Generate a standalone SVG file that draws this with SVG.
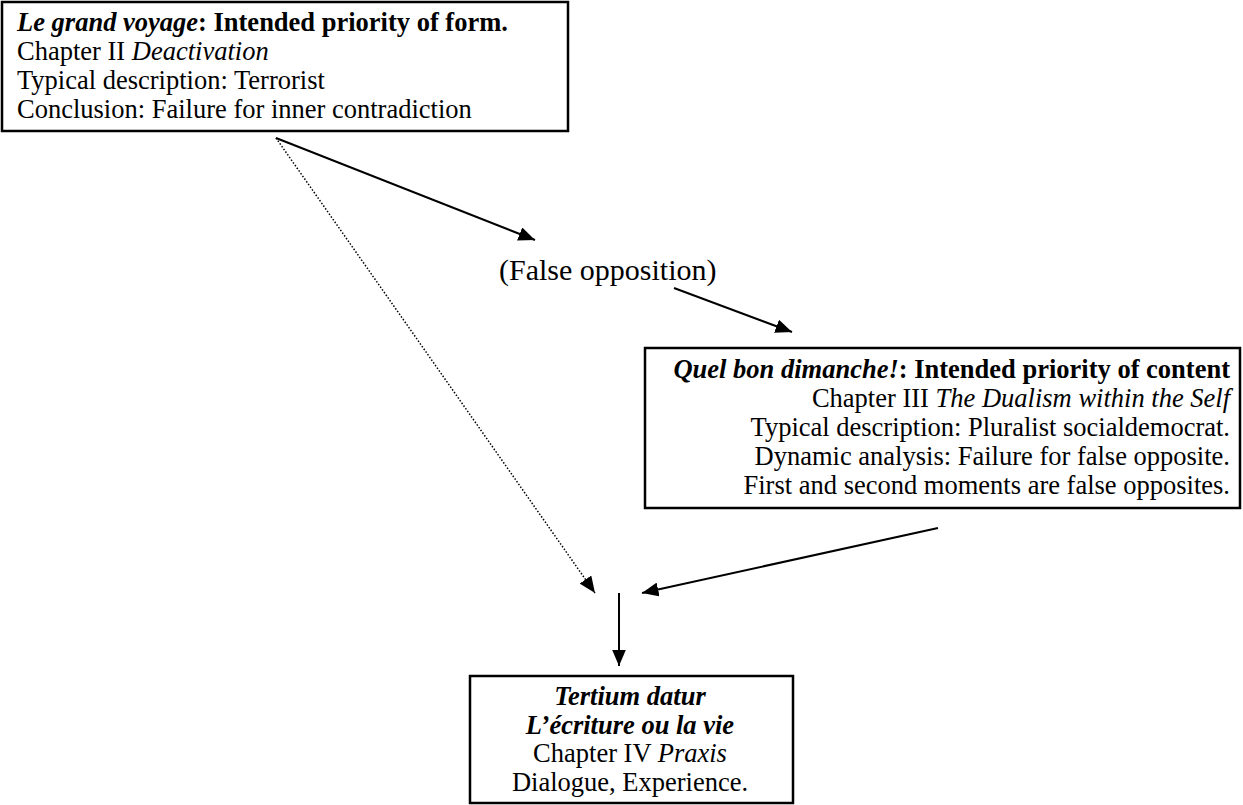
<svg xmlns="http://www.w3.org/2000/svg" width="1243" height="805" viewBox="0 0 1243 805" font-family="'Liberation Serif', 'Times New Roman', 'DejaVu Serif', serif">
<defs>
<style>
.box{fill:#fff;stroke:#000;stroke-width:2.5}
.t{font-family:'Liberation Serif','Times New Roman','DejaVu Serif',serif;font-size:26.5px;fill:#000}
.big{font-size:30px}
.bi{font-weight:bold;font-style:italic}
.b{font-weight:bold}
.i{font-style:italic}
.solid{stroke:#000;stroke-width:2;fill:none}
.dot{stroke:#000;stroke-width:1.5;fill:none;stroke-dasharray:1.5 1.8}
</style>
<marker id="ah" markerUnits="userSpaceOnUse" markerWidth="17" markerHeight="14" refX="16.5" refY="7" orient="auto">
<path d="M0,0 L16.5,7 L0,14 z" fill="#000"/>
</marker>
</defs>
<rect width="1243" height="805" fill="#fff"/>
<g id="connectors">
<line class="solid" x1="276" y1="138" x2="535" y2="240" marker-end="url(#ah)"/>
<line class="solid" x1="674" y1="288" x2="792" y2="332" marker-end="url(#ah)"/>
<line class="dot" x1="276" y1="138" x2="595" y2="593" marker-end="url(#ah)"/>
<line class="solid" x1="938" y1="528" x2="642" y2="593" marker-end="url(#ah)"/>
<line class="solid" x1="619" y1="593" x2="619" y2="666" marker-end="url(#ah)"/>
</g>
<g id="node-grand-voyage">
<rect class="box" x="2" y="2" width="566" height="129"/>
<text class="t" x="17" y="30.5"><tspan class="bi">Le grand voyage</tspan><tspan class="b">: Intended priority of form.</tspan></text>
<text class="t" x="17" y="59.5">Chapter II <tspan class="i">Deactivation</tspan></text>
<text class="t" x="17" y="88.5">Typical description: Terrorist</text>
<text class="t" x="17" y="117.5">Conclusion: Failure for inner contradiction</text>
</g>
<g id="label-false-opposition">
<text class="t big" x="499" y="280">(False opposition)</text>
</g>
<g id="node-quel-bon-dimanche">
<rect class="box" x="645" y="348" width="595" height="160"/>
<text class="t" x="1230" y="378" text-anchor="end"><tspan class="bi">Quel bon dimanche!</tspan><tspan class="b">: Intended priority of content</tspan></text>
<text class="t" x="1230" y="407" text-anchor="end">Chapter III <tspan class="i">The Dualism within the Self</tspan></text>
<text class="t" x="1230" y="436" text-anchor="end">Typical description: Pluralist socialdemocrat.</text>
<text class="t" x="1230" y="465" text-anchor="end">Dynamic analysis: Failure for false opposite.</text>
<text class="t" x="1230" y="494" text-anchor="end">First and second moments are false opposites.</text>
</g>
<g id="node-tertium-datur">
<rect class="box" x="470" y="676" width="323" height="127"/>
<text class="t bi" x="630" y="705" text-anchor="middle">Tertium datur</text>
<text class="t bi" x="630" y="733.5" text-anchor="middle">L’écriture ou la vie</text>
<text class="t" x="630" y="762" text-anchor="middle">Chapter IV <tspan class="i">Praxis</tspan></text>
<text class="t" x="630" y="790.5" text-anchor="middle">Dialogue, Experience.</text>
</g>
</svg>
